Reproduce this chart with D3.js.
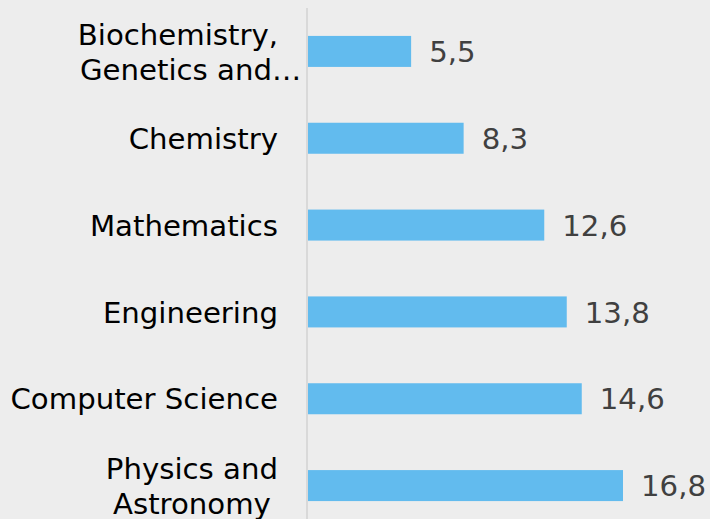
<!DOCTYPE html>
<html>
<head>
<meta charset="utf-8">
<script src="https://cdn.jsdelivr.net/npm/d3@7"></script>
<style>
  html, body { margin: 0; padding: 0; background: #ededed; }
  svg { display: block; }
</style>
</head>
<body>
<svg id="chart" width="710" height="519"></svg>
<script>
const categories = [
  ["Biochemistry,", "Genetics and…"],
  ["Chemistry"],
  ["Mathematics"],
  ["Engineering"],
  ["Computer Science"],
  ["Physics and", "Astronomy"]
];
const values = [5.5, 8.3, 12.6, 13.8, 14.6, 16.8];
const valueLabels = ["5,5", "8,3", "12,6", "13,8", "14,6", "16,8"];

const W = 710, H = 519;
const svg = d3.select("#chart");
svg.append("rect").attr("width", W).attr("height", H).attr("fill", "#ededed");

const keys = categories.map(c => c.join(" "));
const y = d3.scaleBand().domain(keys).range([8, 529]).paddingInner(0.643).paddingOuter(0.3215);
const x = d3.scaleLinear().domain([0, 16.8]).range([308, 623]);

const font = "'DejaVu Sans', Verdana, sans-serif";
const fs = 29.2;

// bars
svg.selectAll("rect.bar").data(values).enter().append("rect")
  .attr("class", "bar")
  .attr("x", x(0))
  .attr("y", (d, i) => y(keys[i]))
  .attr("width", d => x(d) - x(0))
  .attr("height", y.bandwidth())
  .attr("fill", "#62bbee");

// axis line
svg.append("line")
  .attr("x1", 307).attr("x2", 307)
  .attr("y1", 8).attr("y2", H)
  .attr("stroke", "#d9d9d9").attr("stroke-width", 2);

// category labels
const lineH = 35;
const right = 278;
const g = svg.append("g")
  .attr("font-family", font)
  .attr("font-size", fs)
  .attr("fill", "#000");

categories.forEach((lines, i) => {
  const cy = y(keys[i]) + y.bandwidth() / 2;
  const n = lines.length;
  const ys = lines.map((l, j) => cy + (j - (n - 1) / 2) * lineH + fs * 0.365);
  const widths = lines.map(l => {
    const t = g.append("text").text(l.replace("…", ""));
    const w = t.node().getComputedTextLength();
    t.remove();
    return w;
  });
  const blockW = d3.max(lines.map((l, j) => l.endsWith("…") ? 0 : widths[j]));
  const center = right - blockW / 2;
  lines.forEach((l, j) => {
    if (l.endsWith("…")) {
      const ex = right - 6;
      g.append("text").attr("x", ex).attr("y", ys[j])
        .attr("text-anchor", "end").text(l.slice(0, -1));
      g.append("text").attr("x", ex).attr("y", ys[j])
        .attr("text-anchor", "start").text("…");
    } else {
      g.append("text").attr("x", center).attr("y", ys[j])
        .attr("text-anchor", "middle").text(l);
    }
  });
});

// value labels
svg.selectAll("text.val").data(values).enter().append("text")
  .attr("class", "val")
  .attr("x", d => x(d) + 18)
  .attr("y", (d, i) => y(keys[i]) + y.bandwidth() / 2 + fs * 0.365)
  .attr("font-family", font)
  .attr("font-size", fs)
  .attr("fill", "#404040")
  .text((d, i) => valueLabels[i]);
</script>
</body>
</html>
